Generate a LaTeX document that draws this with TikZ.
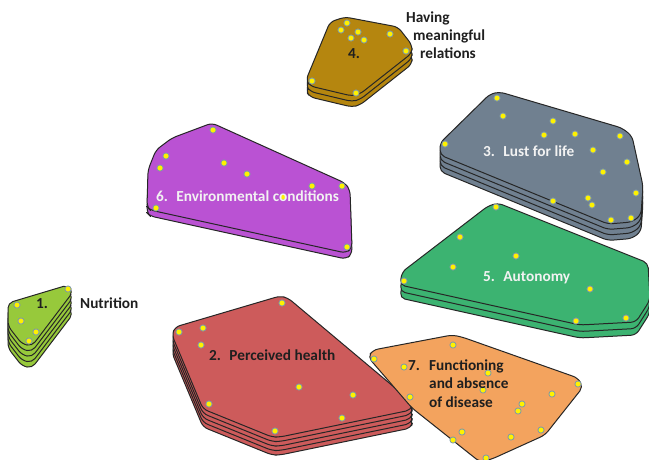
\documentclass[tikz,border=0pt]{standalone}
\usepackage{fontspec}
\setmainfont{Carlito}
\definecolor{cNut}{HTML}{97C93B}
\definecolor{cRel}{HTML}{B5860F}
\definecolor{cEnv}{HTML}{BA52D3}
\definecolor{cLust}{HTML}{708090}
\definecolor{cAut}{HTML}{3CB371}
\definecolor{cHea}{HTML}{CD5B5B}
\definecolor{cFun}{HTML}{F3A35E}
\definecolor{dotrim}{HTML}{7C98AC}
\newcommand\slabs[4]{\foreach \k in {#2,...,0}{\draw[slab,fill=#1,shift={(0,\k*#3)}] #4;}}
\newcommand\ydots[1]{\foreach \p in {#1}{\draw[dot] \p circle (3.1pt);}}
\begin{document}
\begin{tikzpicture}[x=1pt,y=-1pt,
  slab/.style={draw=black!85, line width=1pt, rounded corners=5pt, line join=round},
  dot/.style={fill=yellow, draw=dotrim, line width=0.8pt},
  lbl/.style={anchor=base west, inner sep=0pt, font=\fontsize{15.3}{18}\selectfont\bfseries},
  dark/.style={text=black!88},
  light/.style={text=white!90!gray}]
\useasboundingbox (0,0) rectangle (649,459);
\fill[white] (0,0) rectangle (649,459);
\clip (0,0) rectangle (649,459);

% 6 Environmental conditions (purple)
\slabs{cEnv}{1}{6}{(147,207) -- (148,170) -- (156,150) -- (172,138) -- (212,123) -- (345,183) -- (350,190) -- (352,248) -- (346,253) -- (150,210) -- cycle}
\ydots{(213,130),(166,156),(160,168),(224,163),(247,174),(312,186),(342,186),(283,197),(156,208),(347,247)}
\node[lbl,light] (l6) at (156,201) {6.\hspace{0.55em}Environmental conditions};

% 4 Having meaningful relations (brown)
\slabs{cRel}{2}{5.5}{(306,80) -- (330,22) -- (345,17) -- (398,27) -- (412,45) -- (412,53) -- (360,94) -- (352,96) -- (310,86) -- cycle}
\ydots{(347,23),(341,30),(358,32),(351,38),(364,40),(390,34),(406,51),(312,81),(356,93)}
\node[lbl,dark] (l4) at (348,58) {4.};
\node[lbl,dark] (l4a) at (406,22) {Having};
\node[lbl,dark] (l4b) at (413,40) {meaningful};
\node[lbl,dark] (l4c) at (420,58) {relations};

% 1 Nutrition (lime)
\slabs{cNut}{4}{5.5}{(8,303) -- (68,285) -- (73,292) -- (32,346) -- (22,344) -- (8,326) -- cycle}
\ydots{(17,305),(21,321),(36,332),(29,341),(68,289)}
\node[lbl,dark] (l1) at (36,308) {1.};
\node[lbl,dark] (l1a) at (80,308) {Nutrition};

% 5 Autonomy (green)
\slabs{cAut}{2}{6.5}{(400,285) -- (402,272) -- (488,206) -- (498,203) -- (648,263) -- (650,300) -- (636,322) -- (580,325) -- cycle}
\ydots{(496,207),(460,237),(516,256),(453,267),(404,281),(590,289),(576,321),(626,318)}
\node[lbl,light] (l5) at (483,281) {5.\hspace{0.55em}Autonomy};

% 3 Lust for life (gray)
\slabs{cLust}{3}{5.5}{(440,155) -- (440,143) -- (490,94) -- (500,92) -- (622,128) -- (632,136) -- (643,186) -- (641,215) -- (632,222) -- (608,224) -- cycle}
\ydots{(497,98),(503,116),(553,121),(544,135),(575,134),(620,136),(445,144),(593,150),(627,162),(603,172),(636,193),(553,201),(588,198),(592,205),(611,220),(631,218)}
\node[lbl,light] (l3) at (483,156) {3.\hspace{0.55em}Lust for life};

% 2 Perceived health (red)
\slabs{cHea}{4}{4.5}{(172,335) -- (175,327) -- (280,296) -- (288,298) -- (413,403) -- (411,410) -- (280,437) -- (272,437) -- (203,409) -- cycle}
\ydots{(282,303),(179,332),(203,328),(201,345),(299,387),(353,395),(209,404),(342,418),(275,431)}
\node[lbl,dark] (l2) at (209,360) {2.\hspace{0.55em}Perceived health};

% 7 Functioning and absence of disease (orange)
\draw[slab,fill=cFun] (368,357) -- (373,350) -- (452,335) -- (462,337) -- (578,378) -- (583,387) -- (545,435) -- (492,459) -- (480,462) -- (412,408) -- cycle;
\ydots{(453,345),(374,359),(404,367),(488,373),(410,397),(483,390),(578,384),(552,394),(522,404),(518,411),(462,432),(453,440),(511,437),(541,430),(486,458)}
\node[lbl,dark] (l7) at (408,370) {7.};
\node[lbl,dark] (l7a) at (429,370) {Functioning};
\node[lbl,dark] (l7b) at (429,388.5) {and absence};
\node[lbl,dark] (l7c) at (429,407) {of disease};
\end{tikzpicture}
\end{document}
